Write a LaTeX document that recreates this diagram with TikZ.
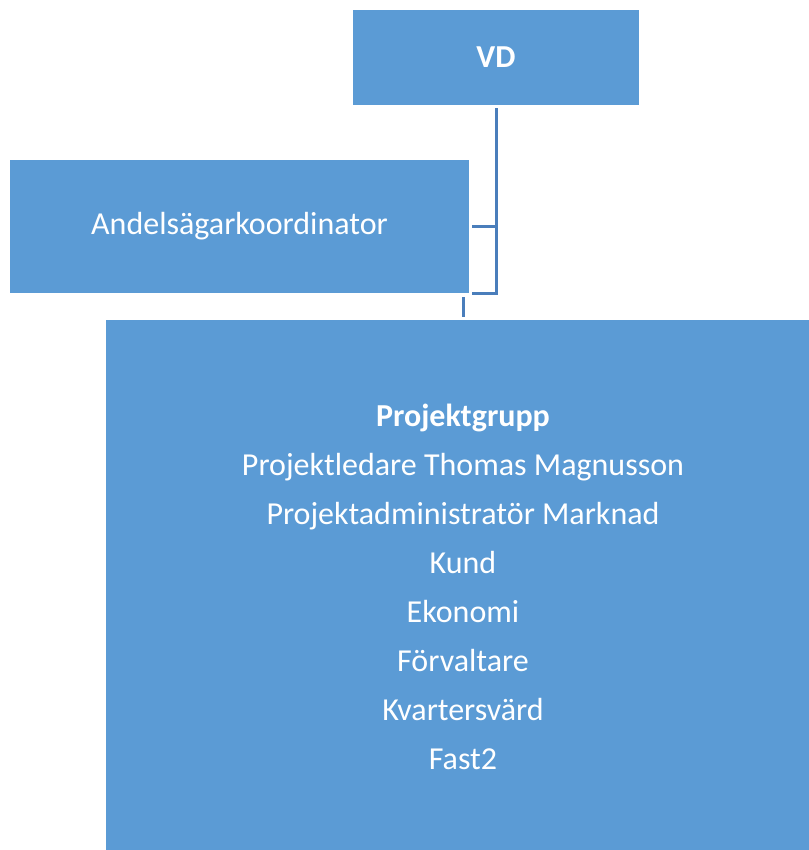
\documentclass[tikz,border=0pt]{standalone}
\usepackage{fontspec}
\setmainfont{Carlito}
\definecolor{boxblue}{HTML}{5B9BD5}
\definecolor{lineblue}{HTML}{4A7EBB}
\begin{document}
\begin{tikzpicture}[x=1pt,y=-1pt,
  box/.style={fill=boxblue, draw=none, inner sep=0pt, text=white, font=\fontsize{32}{38}\selectfont},
  conn/.style={draw=lineblue, line width=3pt}]
\useasboundingbox (0,0) rectangle (808,850);
\node[box, minimum width=286pt, minimum height=95pt] (vd) at (496,57.5) {\textbf{VD}};
\node[box, minimum width=459pt, minimum height=133pt] (and) at (239.5,226.5) {Andelsägarkoordinator};
\node[box, minimum width=714pt, minimum height=534pt, align=center,
  font=\fontsize{32}{49}\selectfont] (pg) at (463,587)
  {\textbf{Projektgrupp}\\Projektledare Thomas Magnusson\\Projektadministratör Marknad\\Kund\\Ekonomi\\Förvaltare\\Kvartersvärd\\Fast2};
\draw[conn] ([yshift=-3pt]vd.south) -- (and.south east -| vd.south) -- ([xshift=3pt]and.south east);
\draw[conn] ([xshift=3pt]and.east) -- (and.east -| vd.south);
\draw[conn] ([yshift=3pt]pg.north) -- ++(0,-20);
\end{tikzpicture}
\end{document}
